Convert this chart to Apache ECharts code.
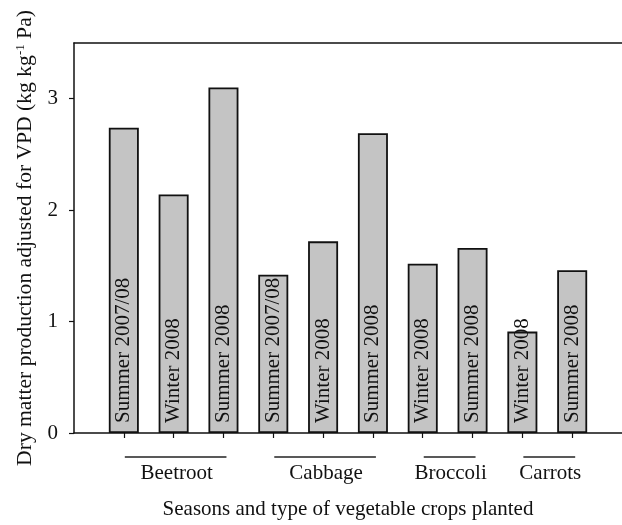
<!DOCTYPE html>
<html>
<head>
<meta charset="utf-8">
<script src="https://cdn.jsdelivr.net/npm/echarts@6/dist/echarts.min.js"></script>
<style>
html,body{margin:0;padding:0;background:#fff;}
#main{width:622px;height:525px;}
</style>
</head>
<body>
<div id="main"></div>
<script>
// ---- data ----
const seasons = ['Summer 2007/08','Winter 2008','Summer 2008','Summer 2007/08','Winter 2008','Summer 2008','Winter 2008','Summer 2008','Winter 2008','Summer 2008'];
const values = [2.74, 2.14, 3.10, 1.42, 1.72, 2.69, 1.52, 1.66, 0.91, 1.46];
const crops = ['Beetroot','Cabbage','Broccoli','Carrots'];
const cropFirst = [0, 3, 6, 8];
const cropLast = [2, 5, 7, 9];
const yTicks = [0, 1, 2, 3];
const yTitle = 'Dry matter production adjusted for VPD (kg kg';
const yTitleSup = '-1';
const yTitleEnd = ' Pa)';
const xTitle = 'Seasons and type of vegetable crops planted';

const FONT = '"Liberation Serif", "Times New Roman", serif';
const positions = seasons.map((s, i) => i + 1);

const chart = echarts.init(document.getElementById('main'), null, {renderer: 'canvas'});
chart.setOption({
  animation: false,
  backgroundColor: '#fff',
  grid: {left: 74, top: 43, width: 550, bottom: 87, containLabel: false},
  xAxis: [{
    type: 'value', min: 0, max: positions.length + 1,
    axisLine: {show: true, onZero: false, lineStyle: {color: '#111', width: 1.5}},
    axisTick: {show: true, customValues: positions, length: 5, lineStyle: {color: '#111', width: 1.2}},
    axisLabel: {show: false},
    splitLine: {show: false},
    name: xTitle, nameLocation: 'middle', nameGap: 66,
    nameTextStyle: {fontFamily: FONT, fontSize: 21, color: '#111'}
  }, {
    type: 'value', position: 'top', min: 0, max: positions.length + 1,
    axisLine: {show: true, onZero: false, lineStyle: {color: '#111', width: 1.5}},
    axisTick: {show: false}, axisLabel: {show: false}, splitLine: {show: false}
  }],
  yAxis: {
    type: 'value', min: 0, max: 3.5,
    axisLine: {show: true, onZero: false, lineStyle: {color: '#111', width: 1.5}},
    axisTick: {show: true, customValues: yTicks, length: 5, lineStyle: {color: '#111', width: 1.2}},
    axisLabel: {customValues: yTicks, margin: 16, fontFamily: FONT, fontSize: 21, color: '#111'},
    splitLine: {show: false},
    name: '{a|' + yTitle + '}{s|' + yTitleSup + '}{a|' + yTitleEnd + '}',
    nameLocation: 'middle', nameRotate: 90, nameGap: 36,
    nameTextStyle: {
      rich: {
        a: {fontFamily: FONT, fontSize: 21.6, color: '#111', lineHeight: 24},
        s: {fontFamily: FONT, fontSize: 13, color: '#111', verticalAlign: 'top', lineHeight: 24}
      }
    }
  },
  series: [{
    type: 'bar',
    xAxisIndex: 0,
    barWidth: 30,
    data: values.map((v, i) => [positions[i], v]),
    itemStyle: {color: '#c4c4c4', borderColor: '#111', borderWidth: 1.8},
    label: {
      show: true, position: 'insideBottom', rotate: 90, align: 'left', verticalAlign: 'middle',
      distance: 10, fontFamily: FONT, fontSize: 21, color: '#111',
      formatter: p => seasons[p.dataIndex]
    }
  }]
});

// crop group lines and labels under the axis, positioned through the axis scale
const y0 = chart.convertToPixel({yAxisIndex: 0}, 0);
const graphics = [];
crops.forEach((c, k) => {
  const xa = chart.convertToPixel({xAxisIndex: 0}, positions[cropFirst[k]]);
  const xb = chart.convertToPixel({xAxisIndex: 0}, positions[cropLast[k]]);
  graphics.push({
    type: 'line', silent: true,
    shape: {x1: xa + 1, y1: y0 + 24, x2: xb + 3, y2: y0 + 24},
    style: {stroke: '#222', lineWidth: 1.5}
  });
  graphics.push({
    type: 'text', silent: true,
    x: (xa + xb) / 2 + 3, y: y0 + 40,
    style: {text: c, fontFamily: FONT, fontSize: 21, fill: '#111', align: 'center', verticalAlign: 'middle'}
  });
});
chart.setOption({graphic: graphics});
</script>
</body>
</html>
